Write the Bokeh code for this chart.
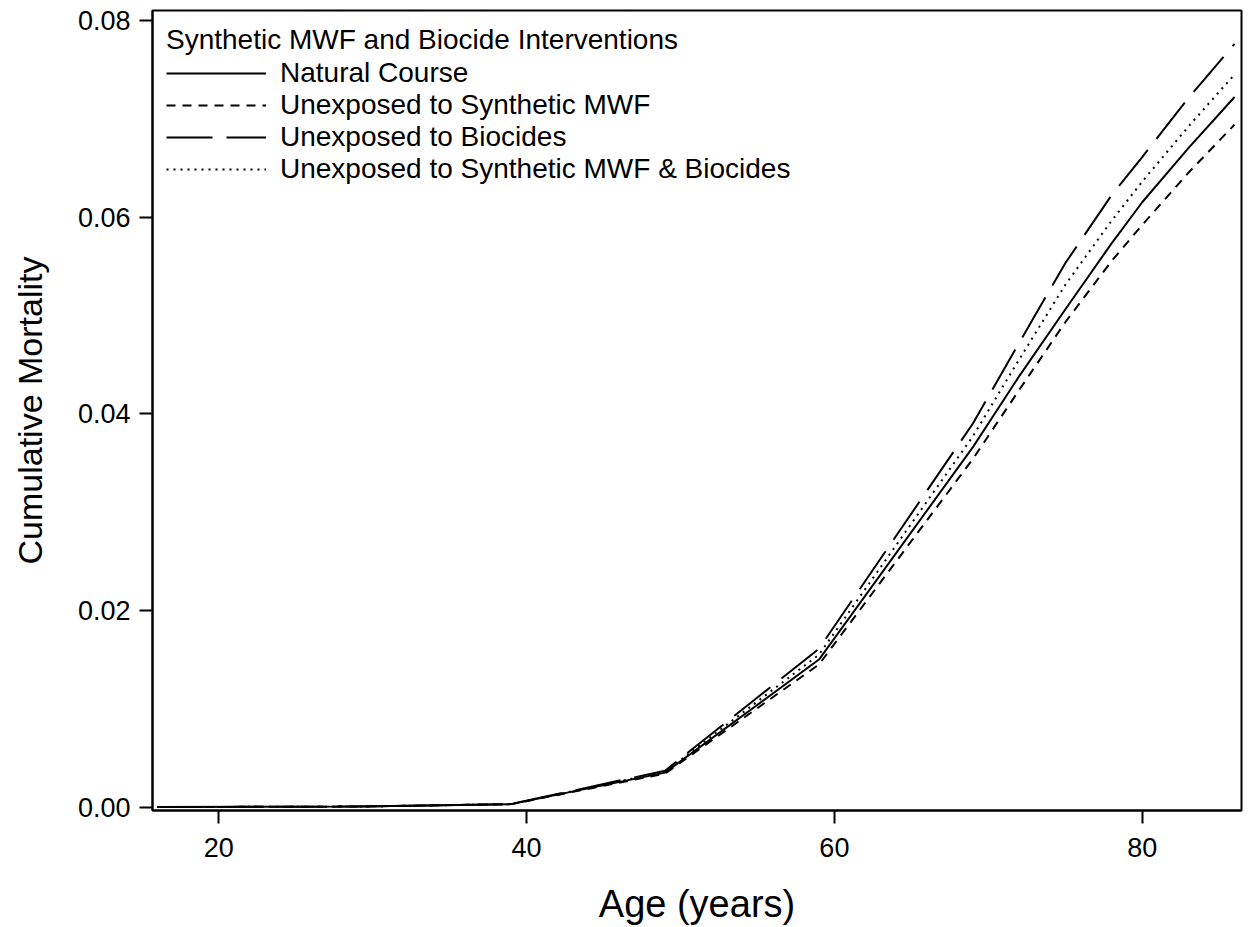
from bokeh.plotting import figure
from bokeh.models import FixedTicker, PrintfTickFormatter, Range1d, Legend
from bokeh.embed import file_html
from bokeh.resources import INLINE

# Data
ages = [16, 29, 39, 49, 59, 69, 72, 75, 78, 80, 83, 86]
natural_course = [0.0000, 0.00005, 0.0003, 0.0035, 0.0150, 0.0366, 0.0438, 0.0506, 0.0573, 0.0615, 0.0670, 0.0722]
unexp_synthetic = [0.0000, 0.00005, 0.0003, 0.0034, 0.0145, 0.0354, 0.0424, 0.0493, 0.0555, 0.0592, 0.0645, 0.0694]
unexp_biocides = [0.0000, 0.00005, 0.0003, 0.0037, 0.0161, 0.0390, 0.0472, 0.0553, 0.0622, 0.0661, 0.0721, 0.0776]
unexp_both = [0.0000, 0.00005, 0.0003, 0.0036, 0.0155, 0.0377, 0.0455, 0.0531, 0.0596, 0.0636, 0.0692, 0.0745]

series_labels = ["Natural Course", "Unexposed to Synthetic MWF",
                 "Unexposed to Biocides", "Unexposed to Synthetic MWF & Biocides"]
legend_title = "Synthetic MWF and Biocide Interventions"
x_ticks = [20, 40, 60, 80]
y_ticks = [0.00, 0.02, 0.04, 0.06, 0.08]

FONT = "Liberation Sans"

p = figure(width=1250, height=927, output_backend="svg", toolbar_location=None,
           x_range=Range1d(15.7, 86.45), y_range=Range1d(-0.00035, 0.0810),
           min_border_left=152, min_border_right=9, min_border_top=10, min_border_bottom=108)

styles = [
    dict(line_dash="solid"),
    dict(line_dash="9 7"),
    dict(line_dash="46 14"),
    dict(line_dash="2 5"),
]
series = [natural_course, unexp_synthetic, unexp_biocides, unexp_both]
renderers = []
for ys, lab, st in zip(series, series_labels, styles):
    r = p.line(ages, ys, line_color="black", line_width=2, **st)
    renderers.append((lab, [r]))

legend = Legend(items=renderers, location="top_left")
legend.title = legend_title
legend.title_text_font = FONT
legend.title_text_font_size = "28px"
legend.title_text_font_style = "normal"
legend.title_text_color = "black"
legend.title_standoff = 1
legend.label_text_font = FONT
legend.label_text_font_size = "28px"
legend.label_text_color = "black"
legend.label_height = 32
legend.glyph_height = 32
legend.glyph_width = 100
legend.label_standoff = 14
legend.spacing = 0
legend.margin = 14
legend.padding = 0
legend.border_line_color = None
legend.background_fill_alpha = 0
p.add_layout(legend)

p.xgrid.visible = False
p.ygrid.visible = False

p.xaxis.ticker = FixedTicker(ticks=x_ticks)
p.yaxis.ticker = FixedTicker(ticks=y_ticks)
p.yaxis.formatter = PrintfTickFormatter(format="%.2f")

for ax in (p.xaxis, p.yaxis):
    ax.axis_line_width = 2
    ax.axis_line_color = "black"
    ax.major_tick_line_width = 2
    ax.major_tick_line_color = "black"
    ax.major_tick_out = 13
    ax.major_tick_in = 0
    ax.minor_tick_line_color = None
    ax.major_label_text_font = FONT
    ax.major_label_text_font_size = "27px"
    ax.major_label_text_color = "black"
    ax.axis_label_text_font = FONT
    ax.axis_label_text_font_style = "normal"
    ax.axis_label_text_color = "black"

p.xaxis.axis_label = "Age (years)"
p.yaxis.axis_label = "Cumulative Mortality"
p.xaxis.axis_label_text_font_size = "38px"
p.yaxis.axis_label_text_font_size = "34px"
p.xaxis.major_label_standoff = 14
p.yaxis.major_label_standoff = 9
p.xaxis.axis_label_standoff = 23
p.yaxis.axis_label_standoff = 26

p.outline_line_color = "black"
p.outline_line_width = 2
p.outline_line_alpha = 1

open("out.html", "w").write(file_html(p, INLINE))
